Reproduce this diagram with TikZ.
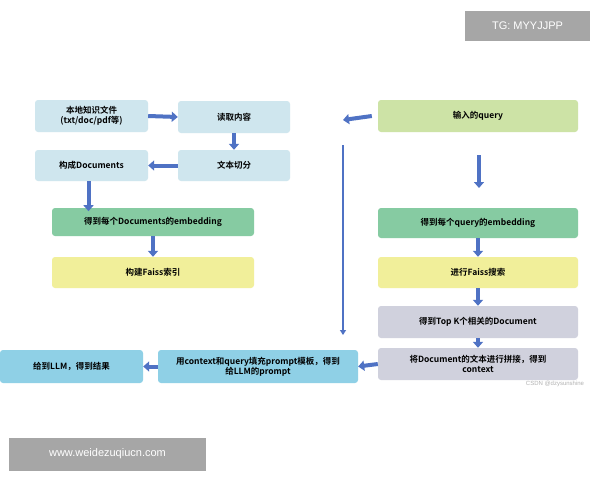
\documentclass[tikz,border=0pt]{standalone}
\usepackage{fontspec}
\setmainfont{Noto Sans CJK SC}[BoldFont={Noto Sans CJK SC Bold}]
\newfontfamily\wm{Liberation Sans}
\usetikzlibrary{arrows.meta}
\definecolor{lb}{HTML}{CFE6EE}
\definecolor{gr}{HTML}{86CBA2}
\definecolor{yl}{HTML}{F1EF9A}
\definecolor{lg}{HTML}{CDE3A6}
\definecolor{gy}{HTML}{D0D1DD}
\definecolor{bl}{HTML}{8FD0E6}
\definecolor{ar}{HTML}{4F72C4}
\begin{document}
\begin{tikzpicture}[x=1pt,y=-1pt,
  box/.style={rounded corners=3pt,inner sep=1pt,align=center,font=\bfseries\fontsize{8.5}{10}\selectfont},
  ar/.style={draw=ar,line width=4pt,-{Triangle[length=6pt,width=10pt]}}]
\useasboundingbox[fill=white](0,0) rectangle (600,480);
\newcommand\bx[6]{\node[box,fill=#5,minimum width=#3-#1,minimum height=#4-#2] (#6) at ({(#1+#3)/2},{(#2+#4)/2}) {};}
\bx{35}{100}{148}{132}{lb}{A}\node[box] at (A) {本地知识文件\\(txt/doc/pdf等)};
\bx{178}{101}{290}{133}{lb}{B}\node[box] at (B) {读取内容};
\bx{35}{150}{148}{181}{lb}{C}\node[box] at (C) {构成Documents};
\bx{178}{150}{290}{181}{lb}{D}\node[box] at (D) {文本切分};
\bx{52}{208}{254}{236}{gr}{E}\node[box] at (E) {得到每个Documents的embedding};
\bx{52}{257}{254}{288}{yl}{F}\node[box] at (F) {构建Faiss索引};
\bx{378}{100}{578}{132}{lg}{G}\node[box] at (G) {输入的query};
\bx{378}{208}{578}{238}{gr}{H}\node[box] at (H) {得到每个query的embedding};
\bx{378}{257}{578}{288}{yl}{I}\node[box] at (I) {进行Faiss搜索};
\bx{378}{306}{578}{338}{gy}{J}\node[box] at (J) {得到Top K个相关的Document};
\bx{378}{348}{578}{380}{gy}{K}\node[box] at (K) {将Document的文本进行拼接，得到\\context};
\bx{158}{350}{358}{383}{bl}{L}\node[box] at (L) {用context和query填充prompt模板，得到\\给LLM的prompt};
\bx{0}{350}{143}{383}{bl}{M}\node[box] at (M) {给到LLM，得到结果};
\draw[ar] (A.east) -- (B.west);
\draw[ar] (B.south) -- (D.north);
\draw[ar] (D.west) -- (C.east);
\draw[ar] ([xshift=-3pt]C.south) -- ++(0,30) coordinate (c1);
\draw[ar] (E.south) -- (F.north);
\coordinate (g1) at (343,120);
\draw[ar] ([xshift=-6pt]G.west) -- (g1);
\coordinate (v1) at (343,145); \coordinate (v2) at (343,335);
\draw[draw=ar,line width=2pt,-{Triangle[length=5pt,width=6pt]}] (v1) -- (v2);
\coordinate (q1) at (479,155); \coordinate (q2) at (479,188);
\draw[ar] (q1) -- (q2);
\draw[ar] (H.south) -- (I.north);
\draw[ar] (I.south) -- (J.north);
\draw[ar] (J.south) -- (K.north);
\draw[ar] (K.west) -- (L.east);
\draw[ar] (L.west) -- (M.east);
\node[fill=black!35,text=white,font=\wm\fontsize{11}{13}\selectfont,minimum width=125,minimum height=30] (w1) at (527.5,26) {TG: MYYJJPP};
\node[fill=black!35,text=white,font=\wm\fontsize{11}{13}\selectfont,minimum width=197,minimum height=33] (w2) at (107.5,454) {www.weidezuqiucn.com};
\node[text=black!30,font=\wm\fontsize{6}{7}\selectfont] (w3) at (555,384) {CSDN @dzysunshine};
\end{tikzpicture}
\end{document}
